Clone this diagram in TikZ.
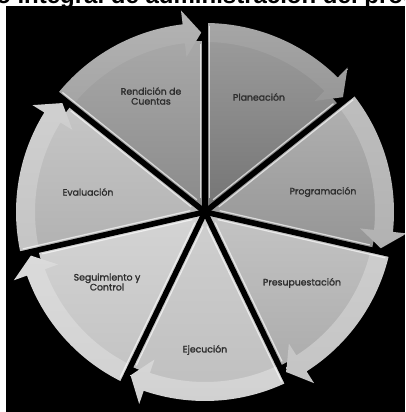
\documentclass[tikz,border=0pt]{standalone}
\usepackage{fontspec}
\setmainfont{Poppins}
\newfontfamily\labelfont{Poppins}[FakeBold=1.6]
\newfontfamily\headfont{Liberation Sans}
\usetikzlibrary{calc}

% segment colours: wedge top/bottom, rim band top/bottom
\definecolor{planA}{HTML}{9A9A9A}\definecolor{planB}{HTML}{747474}
\definecolor{planR}{HTML}{A6A6A6}\definecolor{planS}{HTML}{979797}
\definecolor{progA}{HTML}{B0B0B0}\definecolor{progB}{HTML}{959595}
\definecolor{progR}{HTML}{BEBEBE}\definecolor{progS}{HTML}{B2B2B2}
\definecolor{presA}{HTML}{C4C4C4}\definecolor{presB}{HTML}{ACACAC}
\definecolor{presR}{HTML}{CDCDCD}\definecolor{presS}{HTML}{C4C4C4}
\definecolor{ejecA}{HTML}{CFCFCF}\definecolor{ejecB}{HTML}{C0C0C0}
\definecolor{ejecR}{HTML}{D6D6D6}\definecolor{ejecS}{HTML}{D0D0D0}
\definecolor{seguA}{HTML}{D4D4D4}\definecolor{seguB}{HTML}{C4C4C4}
\definecolor{seguR}{HTML}{DADADA}\definecolor{seguS}{HTML}{D2D2D2}
\definecolor{evalA}{HTML}{C6C6C6}\definecolor{evalB}{HTML}{B2B2B2}
\definecolor{evalR}{HTML}{D0D0D0}\definecolor{evalS}{HTML}{C4C4C4}
\definecolor{rendA}{HTML}{A8A8A8}\definecolor{rendB}{HTML}{8A8A8A}
\definecolor{rendR}{HTML}{B4B4B4}\definecolor{rendS}{HTML}{A4A4A4}
\definecolor{labelgray}{HTML}{2E2E2E}

\tikzset{
  steplabel/.style={text=labelgray, font=\labelfont\fontsize{7}{7.4}\selectfont, align=center, inner sep=0pt},
  gapline/.style={black, line width=4.2pt},
  bevel/.style={white, opacity=0.65, line width=0.9pt},
}

\begin{document}
\begin{tikzpicture}[x=0.75pt,y=0.75pt]
\useasboundingbox (0,0) rectangle (405,412);
\clip (0,0) rectangle (405,412);
\fill[white] (0,0) rectangle (405,412);

% heading, mostly hidden behind the dark panel
\node[anchor=base west, inner sep=0pt, font=\headfont\bfseries\fontsize{18}{18}\selectfont]
  (heading) at (-4,408.5) {o integral de administración del proc};

% dark panel
\fill[black] (6,0) rectangle (405,406);

\begin{scope}[shift={(205,200)}]
  \foreach \i/\ca/\cb/\ra/\rb in {0/planA/planB/planR/planS,
                                  1/progA/progB/progR/progS,
                                  2/presA/presB/presR/presS,
                                  3/ejecA/ejecB/ejecR/ejecS,
                                  4/seguA/seguB/seguR/seguS,
                                  5/evalA/evalB/evalR/evalS,
                                  6/rendA/rendB/rendR/rendS}{
    \pgfmathsetmacro\angS{90-360/7*\i}
    \pgfmathsetmacro\angE{\angS-360/7}
    \pgfmathsetmacro\angB{\angE+6.8}
    \pgfmathsetmacro\angT{\angE+1.2}
    % pie wedge
    \path[top color=\ca, bottom color=\cb]
      (0,0) -- (\angS:171) arc[start angle=\angS, end angle=\angE, radius=171] -- cycle;
    % rim band ending in an arrow head
    \path[top color=\ra, bottom color=\rb]
      (\angS:189) arc[start angle=\angS, end angle=\angB, radius=189]
      -- (\angB:203) -- (\angT:179.5) -- (\angB:156) -- (\angB:170)
      arc[start angle=\angB, end angle=\angS, radius=170] -- cycle;
    % bevel highlights along both straight edges
    \draw[bevel] ($(\angS:14)+(\angS-90:4.6)$) -- ($(\angS:186)+(\angS-90:4.6)$);
    \draw[bevel] ($(\angE:14)+(\angE+90:4.6)$) -- ($(\angE:168)+(\angE+90:4.6)$);
  }
  % dark gaps between the segments
  \foreach \k in {0,...,6}{
    \pgfmathsetmacro\angG{90-360/7*\k}
    \draw[gapline] (0,0) -- (\angG:200);
  }
\end{scope}

% segment labels
\node[steplabel] (planeacion)   at (259,315) {Planeación};
\node[steplabel] (programacion) at (323,220) {Programación};
\node[steplabel] (presupuesto)  at (302,129) {Presupuestación};
\node[steplabel] (ejecucion)    at (205,62)  {Ejecución};
\node[steplabel] (seguimiento)  at (107,130) {Seguimiento y\\Control};
\node[steplabel] (evaluacion)   at (88,220)  {Evaluación};
\node[steplabel] (rendicion)    at (151,316) {Rendición de\\Cuentas};
\end{tikzpicture}
\end{document}
